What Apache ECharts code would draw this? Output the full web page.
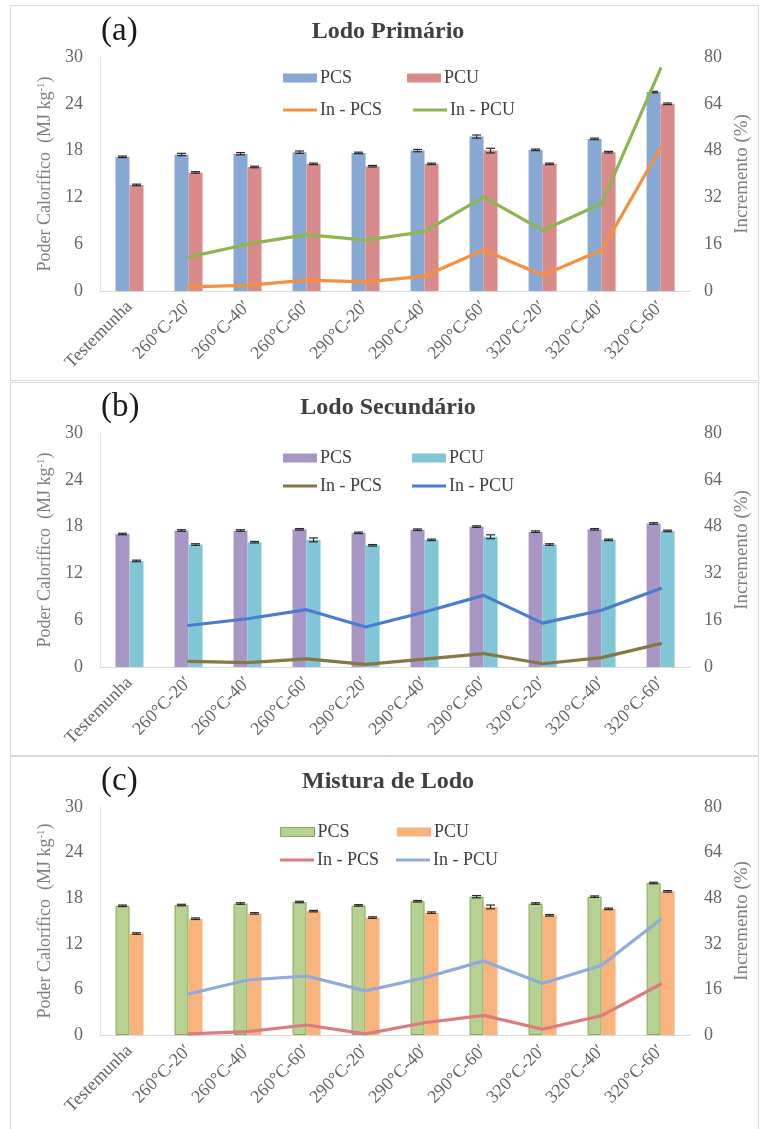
<!DOCTYPE html>
<html>
<head>
<meta charset="utf-8">
<script src="https://cdn.jsdelivr.net/npm/echarts@6/dist/echarts.min.js"></script>
<style>
  html, body { margin: 0; padding: 0; background: #fff; }
  #chart { width: 760px; height: 1129px; }
</style>
</head>
<body>
<div id="chart"></div>
<script>
// Treatment categories (shared by the three panels)
const categories = ['Testemunha', '260°C-20′', '260°C-40′', '260°C-60′', '290°C-20′',
  '290°C-40′', '290°C-60′', '320°C-20′', '320°C-40′', '320°C-60′'];

// Tick labels of the two value axes
const leftTicks = [0, 6, 12, 18, 24, 30];
const rightTicks = [0, 16, 32, 48, 64, 80];

// (a) Lodo Primário — calorific values (MJ kg-1) and increments (%)
const aPCS = [17.2, 17.5, 17.6, 17.8, 17.7, 18.0, 19.8, 18.1, 19.5, 25.5];
const aPCU = [13.6, 15.2, 15.9, 16.3, 16.0, 16.3, 18.0, 16.3, 17.8, 24.0];
const aPCSerr = [0.1, 0.15, 0.15, 0.15, 0.1, 0.15, 0.2, 0.1, 0.1, 0.1];
const aPCUerr = [0.1, 0.1, 0.1, 0.1, 0.1, 0.1, 0.3, 0.1, 0.1, 0.1];
const aInPCS = [null, 1.4, 1.9, 3.7, 3.1, 5.1, 14.0, 5.4, 13.9, 49.0];
const aInPCU = [null, 11.6, 16.0, 19.3, 17.4, 20.3, 32.2, 20.7, 29.9, 76.0];

// (b) Lodo Secundário
const bPCS = [17.05, 17.5, 17.5, 17.65, 17.2, 17.6, 18.0, 17.35, 17.65, 18.4];
const bPCU = [13.6, 15.7, 16.0, 16.3, 15.6, 16.3, 16.7, 15.7, 16.3, 17.45];
const bPCSerr = [0.1, 0.1, 0.1, 0.1, 0.1, 0.1, 0.1, 0.1, 0.1, 0.1];
const bPCUerr = [0.1, 0.1, 0.1, 0.25, 0.1, 0.1, 0.25, 0.1, 0.1, 0.1];
const bInPCS = [null, 1.9, 1.5, 2.8, 0.9, 2.7, 4.6, 1.1, 3.2, 8.0];
const bInPCU = [null, 14.2, 16.5, 19.6, 13.7, 18.8, 24.5, 15.0, 19.4, 26.8];

// (c) Mistura de Lodo
const cPCS = [17.0, 17.1, 17.3, 17.5, 17.05, 17.6, 18.2, 17.3, 18.2, 20.0];
const cPCU = [13.35, 15.3, 16.0, 16.3, 15.45, 16.1, 16.85, 15.75, 16.6, 18.9];
const cPCSerr = [0.1, 0.1, 0.1, 0.1, 0.1, 0.1, 0.15, 0.1, 0.1, 0.1];
const cPCUerr = [0.1, 0.1, 0.1, 0.1, 0.1, 0.1, 0.25, 0.1, 0.1, 0.1];
const cInPCS = [null, 0.4, 1.2, 3.5, 0.4, 4.3, 6.9, 2.0, 6.8, 17.8];
const cInPCU = [null, 14.4, 19.3, 20.7, 15.5, 20.1, 26.0, 18.1, 24.5, 40.5];

const SERIF = '"Liberation Serif", "Times New Roman", serif';
const TXT = '#666666';

const panels = [
  { tag: '(a)', title: 'Lodo Primário', top: 57, height: 234,
    pcs: aPCS, pcu: aPCU, pcsErr: aPCSerr, pcuErr: aPCUerr, inPcs: aInPCS, inPcu: aInPCU,
    colors: { pcs: '#88A8D4', pcu: '#D88B89', inPcs: '#F59040', inPcu: '#8DB653' },
    pcsBorder: null,
    legend: { row1: 80, row2: 112, x1: 283, x2: 407, x2line: 413 } },
  { tag: '(b)', title: 'Lodo Secundário', top: 433, height: 234,
    pcs: bPCS, pcu: bPCU, pcsErr: bPCSerr, pcuErr: bPCUerr, inPcs: bInPCS, inPcu: bInPCU,
    colors: { pcs: '#A897C4', pcu: '#80C6D7', inPcs: '#857845', inPcu: '#4A7DD0' },
    pcsBorder: null,
    legend: { row1: 460, row2: 488, x1: 283, x2: 412, x2line: 412 } },
  { tag: '(c)', title: 'Mistura de Lodo', top: 807, height: 228,
    pcs: cPCS, pcu: cPCU, pcsErr: cPCSerr, pcuErr: cPCUerr, inPcs: cInPCS, inPcu: cInPCU,
    colors: { pcs: '#B6D192', pcu: '#F9B47E', inPcs: '#D97D7F', inPcu: '#8FABD9' },
    pcsBorder: '#86AA55',
    legend: { row1: 834, row2: 862, x1: 280, x2: 397, x2line: 396 } }
];

const GRID_LEFT = 100, GRID_WIDTH = 598, BAR_W = 14;

const grids = [], xAxes = [], yAxes = [], series = [], legends = [], graphics = [];

function errorSeries(p, values, errs, side) {
  return {
    type: 'custom', xAxisIndex: p, yAxisIndex: 2 * p, z: 5, silent: true,
    data: values.map((v, i) => [i, v, errs[i]]),
    encode: { x: 0, y: 1 },
    renderItem: function (params, api) {
      const i = api.value(0), v = api.value(1), e = api.value(2);
      const top = api.coord([i, v + e]);
      const bot = api.coord([i, v - e]);
      const x = top[0] + side * BAR_W / 2;
      const st = { stroke: '#2A2A2A', lineWidth: 1.2 };
      return { type: 'group', children: [
        { type: 'line', shape: { x1: x, y1: top[1], x2: x, y2: bot[1] }, style: st },
        { type: 'line', shape: { x1: x - 4.5, y1: top[1], x2: x + 4.5, y2: top[1] }, style: st },
        { type: 'line', shape: { x1: x - 4.5, y1: bot[1], x2: x + 4.5, y2: bot[1] }, style: st }
      ] };
    }
  };
}

function legendItem(name, color, border, left, centerY, isLine) {
  const style = { color: color };
  if (border) { style.borderColor = border; style.borderWidth = 1; }
  return {
    data: [{ name: name, itemStyle: style }],
    left: left, top: centerY - 11, padding: 0, itemGap: 0,
    icon: 'rect', itemWidth: 34, itemHeight: isLine ? 3 : 9,
    selectedMode: false,
    formatter: n => n.split('|')[1],
    textStyle: { fontFamily: SERIF, fontSize: 18, color: '#404040', padding: [0, 0, 0, -2] }
  };
}

panels.forEach((P, p) => {
  grids.push({ left: GRID_LEFT, width: GRID_WIDTH, top: P.top, height: P.height });

  xAxes.push({
    type: 'category', gridIndex: p, data: categories,
    axisLine: { show: true, lineStyle: { color: '#D9D9D9', width: 1 } },
    axisTick: { show: false },
    axisLabel: { interval: 0, rotate: 45, margin: 13, fontFamily: SERIF, fontSize: 18, color: TXT }
  });

  yAxes.push({
    type: 'value', gridIndex: p, position: 'left',
    min: leftTicks[0], max: leftTicks[leftTicks.length - 1], interval: leftTicks[1] - leftTicks[0],
    axisLine: { show: true, lineStyle: { color: '#E3E3E3' } },
    axisTick: { show: false }, splitLine: { show: false },
    axisLabel: { margin: 17, fontFamily: SERIF, fontSize: 18, color: TXT },
    name: 'Poder Calorífico  (MJ kg{sup|-1})', nameLocation: 'middle', nameGap: 40, nameRotate: 90,
    nameTextStyle: { fontFamily: SERIF, fontSize: 18, color: '#7F7F7F',
      rich: { sup: { fontFamily: SERIF, fontSize: 11, color: '#7F7F7F', verticalAlign: 'top' } } }
  });
  yAxes.push({
    type: 'value', gridIndex: p, position: 'right',
    min: rightTicks[0], max: rightTicks[rightTicks.length - 1], interval: rightTicks[1] - rightTicks[0],
    axisLine: { show: false }, axisTick: { show: false }, splitLine: { show: false },
    axisLabel: { margin: 14, fontFamily: SERIF, fontSize: 18, color: TXT },
    name: 'Incremento (%)', nameLocation: 'middle', nameGap: 42, nameRotate: 90,
    nameTextStyle: { fontFamily: SERIF, fontSize: 19, color: '#7F7F7F' }
  });

  const nPCS = p + '|PCS', nPCU = p + '|PCU', nInPCS = p + '|In - PCS', nInPCU = p + '|In - PCU';

  series.push({
    name: nPCS, type: 'bar', xAxisIndex: p, yAxisIndex: 2 * p, data: P.pcs,
    barWidth: BAR_W, barGap: '0%',
    itemStyle: P.pcsBorder ? { color: P.colors.pcs, borderColor: P.pcsBorder, borderWidth: 1 } : { color: P.colors.pcs }
  });
  series.push({
    name: nPCU, type: 'bar', xAxisIndex: p, yAxisIndex: 2 * p, data: P.pcu,
    barWidth: BAR_W, barGap: '0%', itemStyle: { color: P.colors.pcu }
  });
  series.push(errorSeries(p, P.pcs, P.pcsErr, -1));
  series.push(errorSeries(p, P.pcu, P.pcuErr, 1));
  series.push({
    name: nInPCS, type: 'line', xAxisIndex: p, yAxisIndex: 2 * p + 1, data: P.inPcs,
    symbol: 'none', z: 6, lineStyle: { color: P.colors.inPcs, width: 3.2, cap: 'round', join: 'round' },
    itemStyle: { color: P.colors.inPcs }
  });
  series.push({
    name: nInPCU, type: 'line', xAxisIndex: p, yAxisIndex: 2 * p + 1, data: P.inPcu,
    symbol: 'none', z: 6, lineStyle: { color: P.colors.inPcu, width: 3.2, cap: 'round', join: 'round' },
    itemStyle: { color: P.colors.inPcu }
  });

  const L = P.legend;
  legends.push(legendItem(nPCS, P.colors.pcs, P.pcsBorder, L.x1, L.row1, false));
  legends.push(legendItem(nPCU, P.colors.pcu, null, L.x2, L.row1, false));
  legends.push(legendItem(nInPCS, P.colors.inPcs, null, L.x1, L.row2, true));
  legends.push(legendItem(nInPCU, P.colors.inPcu, null, L.x2line, L.row2, true));

  // panel letter and title
  const titleY = P.top - 25;
  graphics.push({ type: 'text', x: 101, y: titleY - 1,
    style: { text: P.tag, font: '33px ' + SERIF, fill: '#1A1A1A', verticalAlign: 'middle' } });
  graphics.push({ type: 'text', x: 388, y: titleY,
    style: { text: P.title, font: 'bold 24px ' + SERIF, fill: '#404040', align: 'center', verticalAlign: 'middle' } });
});

// panel frames
[[5, 381], [382, 756], [756, 1140]].forEach(([y0, y1]) => {
  graphics.push({ type: 'rect', shape: { x: 10.5, y: y0 + 0.5, width: 748, height: y1 - y0 - 1 },
    style: { fill: null, stroke: '#D9D9D9', lineWidth: 1 }, z: -1 });
});

const chart = echarts.init(document.getElementById('chart'), null, { renderer: 'canvas' });
chart.setOption({
  animation: false,
  backgroundColor: '#fff',
  grid: grids, xAxis: xAxes, yAxis: yAxes, series: series, legend: legends,
  graphic: graphics
});
</script>
</body>
</html>
